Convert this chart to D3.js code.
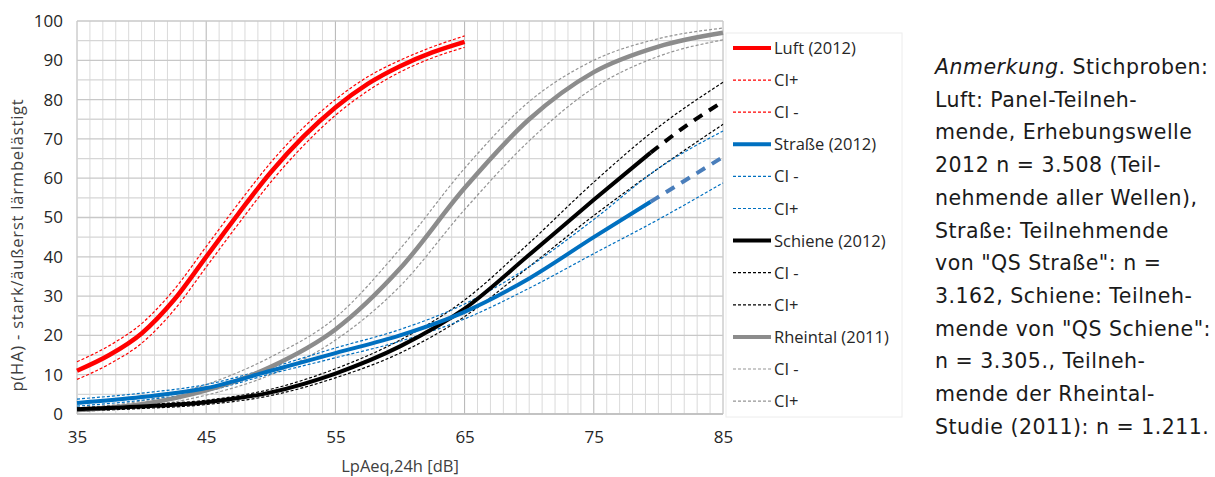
<!DOCTYPE html>
<html>
<head>
<meta charset="utf-8">
<script src="https://cdn.jsdelivr.net/npm/d3@7"></script>
<style>
  body { margin: 0; background: #fff; }
  svg text { font-family: "Open Sans", sans-serif; }
</style>
</head>
<body>
<svg id="chart" width="1215" height="477"></svg>
<script>
// x positions (dB) for the different curves
var luftX = [35, 37.5, 40, 42.5, 45, 47.5, 50, 52.5, 55, 57.5, 60, 62.5, 65];
var luftMain = [11, 15, 20.5, 29, 40, 51, 61.5, 70.5, 78, 84, 88.5, 92, 94.7];
var luftCIplus = [13.3, 17.4, 23, 31.6, 42.6, 53.6, 64, 72.8, 80, 85.8, 90, 93.4, 96.2];
var luftCIminus = [8.8, 12.7, 18, 26.4, 37.4, 48.4, 59, 68.2, 76, 82.2, 87, 90.6, 93.3];

var fullX = [35, 40, 45, 50, 55, 60, 65, 70, 75, 80, 85];
var solidX = [35, 40, 45, 50, 55, 60, 65, 70, 75, 79.4];
var extX = [79.4, 82, 85];

var strasseMain = [2.8, 4.3, 6.6, 11, 15.5, 20, 26, 34.5, 45, 54];
var strasseExt = [54, 59.3, 65.4];
var strasseCIplus = [3.8, 5.3, 7.5, 11.8, 16.8, 21.5, 28, 37.5, 49.5, 62.5, 72];
var strasseCIminus = [2, 3.5, 5.8, 10.2, 14.3, 18.5, 24.2, 32, 40.8, 49.5, 58.8];

var schieneMain = [1.2, 1.9, 3, 5.5, 10.3, 17.2, 26.8, 40.5, 54.5, 66.5];
var schieneExt = [66.5, 73, 79.5];
var schieneCIplus = [1.6, 2.4, 3.5, 6.3, 11.5, 18.8, 29, 43.5, 59, 73, 84.4];
var schieneCIminus = [0.8, 1.4, 2.4, 4.7, 9.2, 15.5, 24.8, 37.5, 50.5, 62.5, 73.7];

var rheintalMain = [1, 2.5, 6, 12, 21.5, 37, 57.5, 75, 87, 93.5, 97];
var rheintalCIplus = [1.5, 3.3, 7.5, 14.5, 24.5, 42, 62.5, 79.5, 90, 95.5, 98.2];
var rheintalCIminus = [0.6, 1.8, 4.8, 10, 18.8, 32.5, 52, 69.5, 83, 91, 95.2];

var xTicks = [35, 45, 55, 65, 75, 85];
var yTicks = [0, 10, 20, 30, 40, 50, 60, 70, 80, 90, 100];

var legendNames = ['Luft (2012)', 'CI+', 'CI -', 'Straße (2012)', 'CI -', 'CI+',
  'Schiene (2012)', 'CI -', 'CI+', 'Rheintal (2011)', 'CI -', 'CI+'];

var noteLines = [
  'Luft: Panel-Teilneh-',
  'mende, Erhebungswelle',
  '2012 n = 3.508 (Teil-',
  'nehmende aller Wellen),',
  'Straße: Teilnehmende',
  'von "QS Straße": n =',
  '3.162, Schiene: Teilneh-',
  'mende von "QS Schiene":',
  'n = 3.305., Teilneh-',
  'mende der Rheintal-',
  'Studie (2011): n = 1.211.'
];

(function() {
var RED = '#ff0000', BLUE = '#0070c0', BLUE_EXT = '#4a7ebb', BLACK = '#000000',
    GREY = '#8c8c8c', GREY_CI = '#959595';

var svg = d3.select('#chart');
var pLeft = 77, pRight = 723, pTop = 21, pBottom = 414;

var x = d3.scaleLinear().domain([35, 85]).range([pLeft, pRight]);
var y = d3.scaleLinear().domain([0, 100]).range([pBottom, pTop]);

// grid
var grid = svg.append('g');
grid.selectAll('line.v')
  .data(d3.range(35, 86, 1))
  .enter().append('line')
  .attr('x1', function(d) { return x(d); })
  .attr('x2', function(d) { return x(d); })
  .attr('y1', pTop).attr('y2', pBottom)
  .attr('stroke', function(d) { return (d - 35) % 10 === 0 ? '#b4b4b4' : '#dadada'; })
  .attr('stroke-width', 1);
grid.selectAll('line.h')
  .data(d3.range(0, 101, 5))
  .enter().append('line')
  .attr('x1', pLeft).attr('x2', pRight)
  .attr('y1', function(d) { return y(d); })
  .attr('y2', function(d) { return y(d); })
  .attr('stroke', function(d) { return d % 10 === 0 ? '#c8c8c8' : '#d6d6d6'; })
  .attr('stroke-width', 1.3);

// axes
var xAxis = svg.append('g')
  .attr('transform', 'translate(0,' + pBottom + ')')
  .call(d3.axisBottom(x).tickValues(xTicks).tickSize(0).tickPadding(17));
var yAxis = svg.append('g')
  .attr('transform', 'translate(' + pLeft + ',0)')
  .call(d3.axisLeft(y).tickValues(yTicks).tickSize(0).tickPadding(14));
[xAxis, yAxis].forEach(function(a) {
  a.select('.domain').remove();
  a.selectAll('text').attr('font-size', 17).attr('fill', '#262626')
    .attr('font-family', '"Open Sans", sans-serif');
});
svg.append('line')
  .attr('x1', pLeft).attr('x2', pRight).attr('y1', pBottom).attr('y2', pBottom)
  .attr('stroke', '#bcbcbc').attr('stroke-width', 1.3);

svg.append('text')
  .attr('x', 400).attr('y', 472)
  .attr('text-anchor', 'middle').attr('font-size', 16.5).attr('fill', '#404040')
  .text('LpAeq,24h [dB]');
svg.append('text')
  .attr('transform', 'translate(23,' + 245 + ') rotate(-90)')
  .attr('text-anchor', 'middle').attr('font-size', 16.5).attr('fill', '#404040')
  .attr('letter-spacing', 0.8)
  .text('p(HA) - stark/äußerst lärmbelästigt');

// curves
var line = d3.line()
  .x(function(d) { return x(d[0]); })
  .y(function(d) { return y(d[1]); })
  .curve(d3.curveMonotoneX);

function draw(xs, ys, color, width, dash) {
  svg.append('path')
    .datum(d3.zip(xs, ys))
    .attr('d', line)
    .attr('fill', 'none')
    .attr('stroke', color)
    .attr('stroke-width', width)
    .attr('stroke-dasharray', dash || null);
}

var ciDash = '3,2';
draw(fullX, rheintalCIplus, GREY_CI, 1.2, ciDash);
draw(fullX, rheintalCIminus, GREY_CI, 1.2, ciDash);
draw(fullX, schieneCIplus, BLACK, 1.2, ciDash);
draw(fullX, schieneCIminus, BLACK, 1.2, ciDash);
draw(fullX, strasseCIplus, BLUE, 1.2, ciDash);
draw(fullX, strasseCIminus, BLUE, 1.2, ciDash);
draw(luftX, luftCIplus, RED, 1.2, ciDash);
draw(luftX, luftCIminus, RED, 1.2, ciDash);

draw(fullX, rheintalMain, GREY, 4.5);
draw(solidX, schieneMain, BLACK, 4);
draw(extX, schieneExt, BLACK, 4, '10,8');
draw(solidX, strasseMain, BLUE, 4);
draw(extX, strasseExt, BLUE_EXT, 4, '10,8');
draw(luftX, luftMain, RED, 4.5);

// legend
var legendColors = [RED, RED, RED, BLUE, BLUE, BLUE, BLACK, BLACK, BLACK, GREY, GREY_CI, GREY_CI];
var legend = svg.append('g');
legend.append('rect')
  .attr('x', 726).attr('y', 33).attr('width', 176).attr('height', 384)
  .attr('fill', 'none').attr('stroke', '#ececec');
var items = legend.selectAll('g.item')
  .data(legendNames)
  .enter().append('g')
  .attr('transform', function(d, i) { return 'translate(733,' + (48 + i * 32.1) + ')'; });
items.append('line')
  .attr('x1', 0).attr('x2', 38).attr('y1', 0).attr('y2', 0)
  .attr('stroke', function(d, i) { return legendColors[i]; })
  .attr('stroke-width', function(d, i) { return i % 3 === 0 ? 4 : 1.2; })
  .attr('stroke-dasharray', function(d, i) { return i % 3 === 0 ? null : '3,2'; });
items.append('text')
  .attr('x', 41).attr('y', 6)
  .attr('font-size', 16.5).attr('fill', '#262626')
  .text(function(d) { return d; });

// note
var note = svg.append('text')
  .attr('x', 935).attr('y', 74)
  .attr('font-size', 20.5).attr('letter-spacing', 0.5).attr('fill', '#1a1a1a')
  .style('font-family', '"DejaVu Sans", sans-serif');
note.append('tspan').attr('font-style', 'italic').text('Anmerkung');
note.append('tspan').text('. Stichproben:');
svg.selectAll('text.note')
  .data(noteLines)
  .enter().append('text')
  .attr('class', 'note')
  .attr('x', 935)
  .attr('y', function(d, i) { return 74 + (i + 1) * 32.7; })
  .attr('font-size', 20.5).attr('letter-spacing', 0.5).attr('fill', '#1a1a1a')
  .style('font-family', '"DejaVu Sans", sans-serif')
  .text(function(d) { return d; });
})();
</script>
</body>
</html>
